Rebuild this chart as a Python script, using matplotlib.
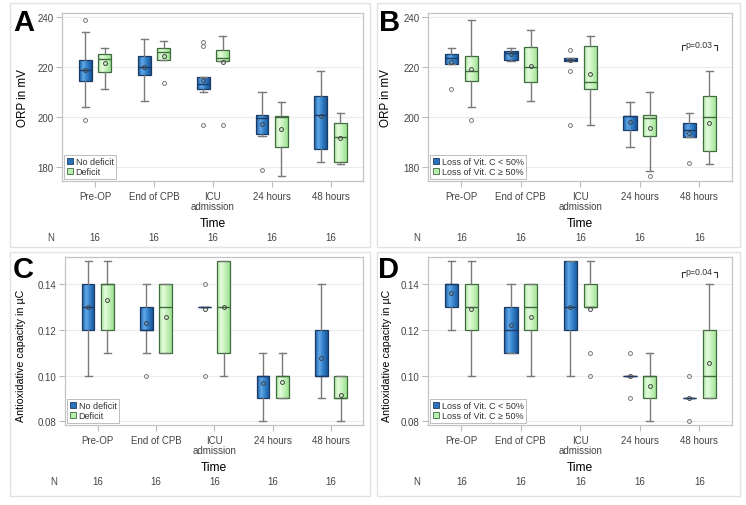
import matplotlib.pyplot as plt
import numpy as np
from matplotlib.colors import LinearSegmentedColormap

plt.rcParams['font.family'] = ['Liberation Sans', 'DejaVu Sans']

times = ['Pre-OP', 'End of CPB', 'ICU\nadmission', '24 hours', '48 hours']
n_per_time = [16, 16, 16, 16, 16]

# box stats per time point: [whisker low, q1, median, q3, whisker high]
a_blue = [[204, 214.3, 218.5, 222.7, 234], [206.1, 216.5, 220, 224.4, 231.1],
          [209.7, 211, 213.2, 216, 216], [192.1, 192.9, 199.6, 200.7, 210],
          [182, 187, 200.5, 208.3, 218.3]]
a_blue_mean = [218.7, 220, 214.7, 197, 200.1]
a_blue_out = [[238.8, 198.7], [], [229.8, 228.3, 196.7], [178.5], []]
a_green = [[211, 217.7, 223, 225, 227.5], [222.7, 222.7, 225.7, 227.5, 230.1],
           [222.3, 222.3, 223.6, 226.8, 232.1], [176.1, 187.7, 199.9, 200.3, 206],
           [181.2, 181.7, 191.9, 197.6, 201.3]]
a_green_mean = [221.5, 224.1, 221.8, 195, 191.6]
a_green_out = [[], [213.6], [196.7], [], []]

b_blue = [[221.1, 221.1, 223.3, 225, 227.5], [222.3, 222.8, 225.3, 226.4, 227.5],
          [222.3, 222.3, 222.8, 223.3, 223.3], [187.7, 194.7, 200.1, 200.1, 205.7],
          [192, 192, 194.7, 197.6, 201.3]]
b_blue_mean = [222, 225.1, 222.8, 197.7, 193.4]
b_blue_out = [[211], [], [226.8, 218.4, 196.7], [], [181.5]]
b_green = [[204, 214.3, 218.4, 224.1, 238.8], [206.3, 213.9, 219.9, 227.7, 234.8],
           [196.7, 211, 213.9, 228.1, 232.1], [178.4, 192.1, 199.6, 200.7, 210],
           [181.2, 186.1, 199.7, 208.3, 218.3]]
b_green_mean = [219.2, 220.4, 217.1, 195.5, 197.5]
b_green_out = [[198.7], [], [], [176.1], []]

c_blue = [[0.10, 0.12, 0.13, 0.14, 0.15], [0.11, 0.12, 0.12, 0.13, 0.14],
          [0.13, 0.13, 0.13, 0.13, 0.13], [0.08, 0.09, 0.10, 0.10, 0.11],
          [0.09, 0.10, 0.10, 0.12, 0.14]]
c_blue_mean = [0.13, 0.1232, 0.129, 0.0967, 0.1077]
c_blue_out = [[], [0.10], [0.14, 0.10], [], []]
c_green = [[0.11, 0.12, 0.14, 0.14, 0.15], [0.11, 0.11, 0.13, 0.14, 0.14],
           [0.10, 0.11, 0.13, 0.15, 0.15], [0.09, 0.09, 0.10, 0.10, 0.11],
           [0.08, 0.09, 0.09, 0.10, 0.10]]
c_green_mean = [0.1329, 0.1255, 0.13, 0.097, 0.0915]
c_green_out = [[], [], [], [], []]

d_blue = [[0.12, 0.13, 0.14, 0.14, 0.15], [0.11, 0.11, 0.12, 0.13, 0.14],
          [0.10, 0.12, 0.13, 0.15, 0.15], [0.10, 0.10, 0.10, 0.10, 0.10],
          [0.09, 0.09, 0.09, 0.09, 0.09]]
d_blue_mean = [0.136, 0.122, 0.13, 0.10, 0.09]
d_blue_out = [[], [], [], [0.11, 0.09], [0.10, 0.08]]
d_green = [[0.10, 0.12, 0.13, 0.14, 0.15], [0.10, 0.12, 0.13, 0.14, 0.14],
           [0.13, 0.13, 0.13, 0.14, 0.15], [0.08, 0.09, 0.10, 0.10, 0.11],
           [0.09, 0.09, 0.10, 0.12, 0.14]]
d_green_mean = [0.129, 0.1255, 0.129, 0.0955, 0.1055]
d_green_out = [[], [], [0.11, 0.10], [], []]

blue_cmap = LinearSegmentedColormap.from_list('b', ['#1d5fa6', '#5fa8e8', '#2f7cc6', '#1a5598'])
green_cmap = LinearSegmentedColormap.from_list('g', ['#b2eaa8', '#e4fbdc', '#bff0b4', '#9ee093'])


def make_stats(boxes, means, outs):
    stats = []
    for b, m, o in zip(boxes, means, outs):
        stats.append(dict(whislo=b[0], q1=b[1], med=b[2], q3=b[3], whishi=b[4],
                          mean=m, fliers=o))
    return stats


def draw_group(ax, stats, pos, cmap, edge):
    res = ax.bxp(stats, positions=pos, widths=0.22, capwidths=0.12,
                 patch_artist=True, showmeans=True, meanline=False,
                 boxprops=dict(edgecolor=edge, linewidth=0.9, facecolor='none'),
                 medianprops=dict(color=edge, linewidth=1.0),
                 whiskerprops=dict(color='#7a7a7a', linewidth=1.0),
                 capprops=dict(color='#7a7a7a', linewidth=1.0),
                 flierprops=dict(marker='o', markersize=2.8, markerfacecolor='none',
                                 markeredgecolor='#777777', markeredgewidth=0.7),
                 meanprops=dict(marker='o', markersize=2.8, markerfacecolor='none',
                                markeredgecolor='#444444', markeredgewidth=0.7),
                 manage_ticks=False)
    grad = np.linspace(0, 1, 64).reshape(1, -1)
    for box in res['boxes']:
        ext = box.get_path().get_extents()
        if ext.height <= 0:
            continue
        im = ax.imshow(grad, cmap=cmap, aspect='auto', zorder=1.5,
                       extent=[ext.x0, ext.x1, ext.y0, ext.y1], origin='lower')
        im.set_clip_path(box)
    return res


def panel(ax, blue, green, ylim, yticks, fmt, ylabel, labels, lab_x, lab_y, lab_size):
    pos = np.arange(len(times))
    draw_group(ax, blue, pos - 0.165, blue_cmap, '#1b3a66')
    draw_group(ax, green, pos + 0.165, green_cmap, '#3f6b3f')
    ax.set_xlim(-0.56, 4.55)
    ax.set_ylim(*ylim)
    ax.set_yticks(yticks)
    ax.set_yticklabels([fmt.format(v) for v in yticks])
    ax.set_xticks(pos)
    ax.set_xticklabels(times, fontsize=7, color='#444444', linespacing=1.05)
    ax.tick_params(axis='y', labelsize=7, colors='#bbbbbb', labelcolor='#444444',
                   length=4, width=0.8, pad=2)
    ax.tick_params(axis='x', colors='#bbbbbb', labelcolor='#444444',
                   length=4, width=0.8, pad=3)
    ax.grid(axis='y', color='#ececec', linewidth=0.8)
    ax.set_axisbelow(True)
    for s in ax.spines.values():
        s.set_color('#c4c4c4')
        s.set_linewidth(0.9)
    ax.set_ylabel(ylabel, fontsize=lab_size, color='black')
    ax.yaxis.set_label_coords(lab_x, lab_y)
    ax.text(0.5, -0.25, 'Time', transform=ax.transAxes, ha='center', va='center',
            fontsize=8.7, color='black')
    tr = ax.get_xaxis_transform()
    ax.text(-0.75, -0.333, 'N', transform=tr, ha='center', va='center',
            fontsize=7, color='#444444', clip_on=False)
    for p, n in zip(pos, n_per_time):
        ax.text(p, -0.333, str(n), transform=tr, ha='center', va='center',
                fontsize=7, color='#444444')
    h1 = plt.Rectangle((0, 0), 1, 1, facecolor='#2a72bb', edgecolor='#1b3a66', linewidth=0.6)
    h2 = plt.Rectangle((0, 0), 1, 1, facecolor='#b8efae', edgecolor='#3f6b3f', linewidth=0.6)
    leg = ax.legend([h1, h2], labels, loc='lower left', fontsize=6.5, frameon=True,
                    fancybox=False, edgecolor='#bdbdbd', framealpha=1,
                    handlelength=0.7, handleheight=0.7, handletextpad=0.3,
                    labelspacing=0.15, borderpad=0.25, borderaxespad=0.25)
    leg.get_frame().set_linewidth(0.7)
    for t in leg.get_texts():
        t.set_color('#333333')
    return ax


def bracket(ax, x, y_low, y_top, txt):
    xl, xr = x - 0.29, x + 0.29
    ax.plot([xl, xl, xl + 0.05], [y_low, y_top, y_top], color='#333333', linewidth=0.8)
    ax.plot([xr - 0.05, xr, xr], [y_top, y_top, y_low], color='#333333', linewidth=0.8)
    ax.text(x, y_top, txt, ha='center', va='center', fontsize=6.3, color='#333333')


fig = plt.figure(figsize=(7.46, 5.06), dpi=100)
W, H = 746, 506

# panel frames
for (x0, y0, x1, y1) in [(10, 4, 370, 248), (377, 4, 740, 248),
                         (10, 253, 370, 497), (377, 253, 740, 497)]:
    fig.patches.append(plt.Rectangle((x0 / W, 1 - y1 / H), (x1 - x0) / W, (y1 - y0) / H,
                                     transform=fig.transFigure, fill=False,
                                     edgecolor='#e2e2e2', linewidth=1.0))

legend_a = ['No deficit', 'Deficit']
legend_b = ['Loss of Vit. C < 50%', 'Loss of Vit. C \u2265 50%']
orp_ticks = [180, 200, 220, 240]
cap_ticks = [0.08, 0.10, 0.12, 0.14]
cap_label = 'Antioxidative capacity in \u00b5C'

axA = fig.add_axes([62 / W, 1 - 182 / H, 301 / W, 168 / H])
panel(axA, make_stats(a_blue, a_blue_mean, a_blue_out),
      make_stats(a_green, a_green_mean, a_green_out),
      (174.3, 241.5), orp_ticks, '{:.0f}', 'ORP in mV', legend_a, -0.108, 0.5, 8.4)

axB = fig.add_axes([428 / W, 1 - 182 / H, 304 / W, 168 / H])
panel(axB, make_stats(b_blue, b_blue_mean, b_blue_out),
      make_stats(b_green, b_green_mean, b_green_out),
      (174.3, 241.5), orp_ticks, '{:.0f}', 'ORP in mV', legend_b, -0.117, 0.5, 8.4)
bracket(axB, 4, 226.8, 228.8, 'p=0.03')

axC = fig.add_axes([65 / W, 1 - 426 / H, 298 / W, 168 / H])
panel(axC, make_stats(c_blue, c_blue_mean, c_blue_out),
      make_stats(c_green, c_green_mean, c_green_out),
      (0.0784, 0.1519), cap_ticks, '{:.2f}', cap_label, legend_a, -0.13, 0.42, 7.7)

axD = fig.add_axes([428 / W, 1 - 426 / H, 304 / W, 168 / H])
panel(axD, make_stats(d_blue, d_blue_mean, d_blue_out),
      make_stats(d_green, d_green_mean, d_green_out),
      (0.0784, 0.1519), cap_ticks, '{:.2f}', cap_label, legend_b, -0.117, 0.42, 7.7)
bracket(axD, 4, 0.1432, 0.1454, 'p=0.04')

for letter, x, y in [('A', 13, 23), ('B', 379, 23), ('C', 13, 270), ('D', 378, 270)]:
    fig.text(x / W, 1 - y / H, letter, fontsize=21, fontweight='bold',
             ha='left', va='center', color='black')

fig.savefig('out.png', dpi=100, facecolor='white')
